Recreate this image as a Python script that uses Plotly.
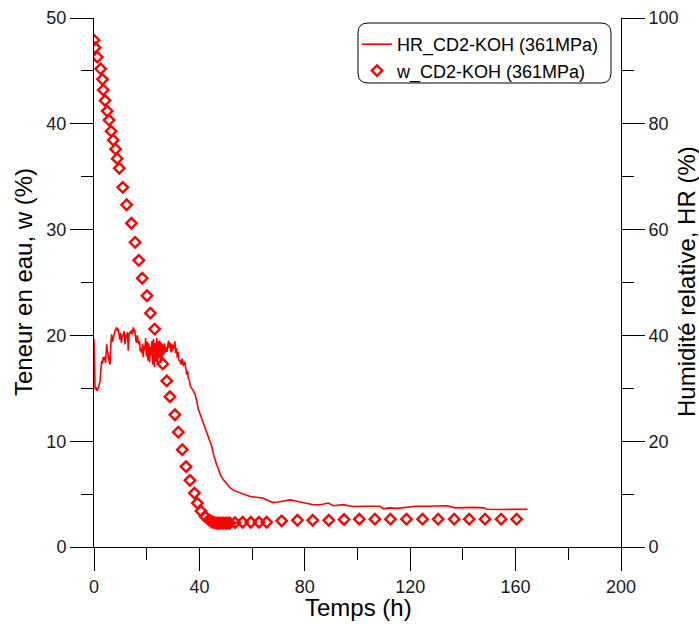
import plotly.graph_objects as go

# HR series (right axis, %)
hr_t = [0, 0.1, 0.2, 0.4, 0.8, 1.2, 1.6, 2.0, 2.3, 2.6, 2.9, 3.2, 3.5, 3.8, 4.1, 4.4, 4.8, 5.1, 5.4, 5.7,
        6.1, 6.4, 6.7, 7.0, 7.3, 7.6, 8.0, 8.3, 8.6, 8.9, 9.2, 9.5, 9.8, 10.1, 10.4, 10.7, 11.0, 11.4, 11.8,
        12.1, 12.4, 12.7, 13.0, 13.3, 13.6, 13.9, 14.2, 14.5, 14.9, 15.2, 15.5, 15.8, 16.1, 16.4, 16.7,
        17.0, 17.3, 17.5, 17.8, 18.1, 18.4, 18.7, 19.0, 19.3, 19.6, 19.9, 20.2, 20.5, 20.8, 21.1, 21.4,
        21.7, 22.0, 22.3, 22.6, 22.9, 23.2, 23.5, 23.8, 24.1, 24.4, 24.7, 25.0, 25.3, 25.6, 25.9, 26.2,
        26.5, 26.8, 27.1, 27.4, 27.7, 28.0, 28.3, 28.6, 28.9, 29.2, 29.5, 29.8, 30.1, 30.4, 30.7, 31.0,
        31.3, 31.6, 31.9, 32.2, 32.6, 33.0, 33.4, 33.9, 34.2, 34.5, 34.9, 35.2, 35.5, 35.8, 36.2, 36.6,
        37.1, 37.6, 38.3, 39.0, 39.6, 40.5, 41.5, 42.5, 43.4, 44.1, 44.7, 45.3, 45.9, 46.5, 47.2, 48.0,
        49.1, 50.2, 51.6, 53.0, 55.4, 57.0, 59.2, 61.5, 64.3, 66.0, 68.0, 70.0, 72.0, 74.4, 76.5, 79.4,
        81.0, 83.2, 86.0, 88.9, 90.8, 92.5, 94.6, 96.5, 98.4, 103.0, 108.5, 109.8, 112.0, 115.0, 118.0,
        122.0, 126.0, 130.0, 134.0, 137.0, 140.0, 144.0, 148.0, 149.0, 155.0, 160.0, 164.5]
hr_v = [39.3, 33.0, 30.5, 29.8, 30.2, 29.5, 29.9, 30.5, 31.4, 33.5, 35.2, 34.6, 35.9, 35.3, 36.0, 34.8, 38.3,
        37.0, 36.5, 35.2, 34.5, 38.5, 40.2, 38.8, 39.6, 40.5, 40.9, 41.2, 41.5, 40.8, 41.3, 40.4, 39.2, 40.5,
        38.6, 40.1, 39.8, 40.8, 38.3, 40.2, 39.5, 40.6, 37.1, 40.1, 40.7, 40.4, 41.0, 40.2, 41.5, 40.8, 40.9,
        39.4, 38.6, 40.0, 39.1, 38.3, 38.9, 37.0, 37.5, 36.6, 38.4, 35.9, 38.0, 37.2, 39.5, 36.0, 38.8, 35.2,
        38.5, 34.9, 37.9, 36.2, 39.0, 34.5, 39.3, 34.0, 38.6, 35.0, 39.5, 34.5, 38.4, 35.8, 38.9, 34.8, 38.0,
        35.6, 37.4, 36.4, 38.5, 36.8, 37.8, 36.9, 38.2, 39.0, 37.6, 38.6, 36.8, 38.4, 37.0, 38.2, 37.5, 38.9,
        36.6, 37.6, 35.8, 36.9, 35.3, 35.2, 34.5, 35.6, 34.2, 35.0, 34.9, 33.0, 32.6, 33.3, 32.0, 31.5, 30.4,
        30.0, 29.6, 29.0, 27.6, 26.0, 24.8, 23.5, 22.2, 20.9, 20.0, 19.0, 17.6, 16.5, 15.6, 14.8, 13.6, 12.7,
        12.0, 11.2, 10.7, 10.2, 9.9, 9.55, 9.4, 9.2, 8.8, 8.4, 8.5, 8.7, 8.9, 8.7, 8.4, 8.3, 8.0, 8.0, 8.3,
        7.8, 7.9, 8.0, 7.8, 7.65, 7.7, 7.7, 7.2, 7.4, 7.3, 7.5, 7.7, 7.7, 7.7, 7.8, 7.4, 7.45, 7.5, 7.4,
        7.15, 7.1, 7.15, 7.15]

# Water content series (left axis, %)
w_t = [0, 0.38, 1.27, 2.5, 3.2, 3.5, 4.2, 5.0, 5.7, 6.5, 7.3, 8.2, 8.8, 9.6, 10.9, 12.4, 14.2, 15.6, 17.0,
       18.3, 20.1, 21.4, 23.0, 24.6, 26.1, 27.6, 28.8, 30.7, 32.0, 33.5, 34.9, 36.4, 38.1, 39.2, 40.6, 42.1,
       43.6, 44.4, 45.0, 45.8, 46.6, 47.3, 47.8, 48.6, 49.1, 49.8, 50.3, 51.0, 51.6, 53.5, 56.4, 59.5, 62.6,
       65.5, 71.2, 77.2, 83.0, 89.1, 94.9, 100.7, 106.6, 112.5, 118.6, 124.7, 130.6, 136.7, 142.4, 148.4,
       154.5, 160.4]
w_v = [47.9, 47.2, 46.3, 45.2, 44.2, 43.2, 42.2, 41.2, 40.35, 39.3, 38.45, 37.6, 36.7, 35.8, 34.0, 32.35,
       30.6, 28.8, 27.1, 25.4, 23.75, 22.1, 20.6, 18.9, 17.3, 15.7, 14.2, 12.5, 10.85, 9.2, 7.6, 6.3, 5.1,
       4.15, 3.4, 2.9, 2.56, 2.45, 2.34, 2.3, 2.25, 2.25, 2.25, 2.25, 2.25, 2.25, 2.25, 2.25, 2.25, 2.3,
       2.34, 2.34, 2.34, 2.34, 2.47, 2.53, 2.53, 2.53, 2.6, 2.63, 2.63, 2.63, 2.63, 2.63, 2.63, 2.63, 2.63,
       2.63, 2.63, 2.63]

x_ticks = [0, 40, 80, 120, 160, 200]
y_ticks = [0, 10, 20, 30, 40, 50]
y2_ticks = [0, 20, 40, 60, 80, 100]

x_title = "Temps (h)"
y_title = "Teneur en eau, w (%)"
y2_title = "Humidité relative, HR (%)"

FONT = "Liberation Sans, Arial, sans-serif"
W, H = 699, 628
L, R, T, B = 94, 78, 18, 81
pw, ph = W - L - R, H - T - B

def px2paper(x, y):
    return (x - L) / pw, (H - B - y) / ph

fig = go.Figure()
fig.add_trace(go.Scatter(x=hr_t, y=hr_v, mode="lines", name="HR_CD2-KOH (361MPa)",
                         line=dict(color="#ff0000", width=1.6), yaxis="y2"))
fig.add_trace(go.Scatter(x=w_t, y=w_v, mode="markers", name="w_CD2-KOH (361MPa)",
                         marker=dict(symbol="diamond-open", size=8, color="#ff0000",
                                     line=dict(width=2.4, color="#ff0000"))))

axis_common = dict(showline=True, linecolor="black", linewidth=1, ticks="outside",
                   tickcolor="black", tickwidth=1, ticklen=23, showgrid=False, zeroline=False,
                   automargin=False,
                   tickfont=dict(family=FONT, size=18, color="#1a1a1a"))

fig.update_layout(
    width=W, height=H,
    margin=dict(l=L, r=R, t=T, b=B, autoexpand=False),
    paper_bgcolor="white", plot_bgcolor="white",
    font=dict(family=FONT, color="black"),
    xaxis=dict(range=[0, 200], tickvals=x_ticks, ticktext=[str(v) for v in x_ticks],
               minor=dict(ticks="outside", ticklen=12, dtick=20, tickcolor="black", tickwidth=1),
               **axis_common),
    yaxis=dict(range=[0, 50], tickvals=y_ticks, ticktext=[str(v) for v in y_ticks],
               minor=dict(ticks="outside", ticklen=12, dtick=5, tickcolor="black", tickwidth=1),
               **axis_common),
    yaxis2=dict(range=[0, 100], overlaying="y", side="right", tickvals=y2_ticks,
                ticktext=[str(v) for v in y2_ticks],
                minor=dict(ticks="outside", ticklen=12, dtick=10, tickcolor="black", tickwidth=1),
                **axis_common),
    legend=dict(x=px2paper(357, 0)[0], y=px2paper(0, 26)[1], xanchor="left", yanchor="top",
                bgcolor="rgba(0,0,0,0)", borderwidth=0, font=dict(family=FONT, size=18, color="black"),
                tracegroupgap=0),
    showlegend=True,
)

# axis titles placed as annotations (pixel-accurate)
tx, ty = px2paper(358, 607)
fig.add_annotation(text=x_title, x=tx, y=ty, xref="paper", yref="paper", showarrow=False,
                   xanchor="center", yanchor="middle", font=dict(family=FONT, size=24, color="black"))
lx, ly = px2paper(23, 282)
fig.add_annotation(text=y_title, x=lx, y=ly, xref="paper", yref="paper", showarrow=False, textangle=-90,
                   xanchor="center", yanchor="middle", font=dict(family=FONT, size=24, color="black"))
rx_, ry_ = px2paper(686, 282)
fig.add_annotation(text=y2_title, x=rx_, y=ry_, xref="paper", yref="paper", showarrow=False, textangle=-90,
                   xanchor="center", yanchor="middle", font=dict(family=FONT, size=24, color="black"))

# rounded legend frame
x0, y0 = px2paper(358, 83)
x1, y1 = px2paper(611, 23)
rx, ry = 10 / pw, 10 / ph
path = (f"M {x0+rx},{y1} L {x1-rx},{y1} Q {x1},{y1} {x1},{y1-ry} L {x1},{y0+ry} "
        f"Q {x1},{y0} {x1-rx},{y0} L {x0+rx},{y0} Q {x0},{y0} {x0},{y0+ry} L {x0},{y1-ry} "
        f"Q {x0},{y1} {x0+rx},{y1} Z")
fig.add_shape(type="path", path=path, xref="paper", yref="paper",
              line=dict(color="black", width=1), fillcolor="rgba(0,0,0,0)")

fig.write_html("out.html", config={"displayModeBar": False},
               post_script="document.body.style.margin='0';document.body.style.overflow='hidden';")
